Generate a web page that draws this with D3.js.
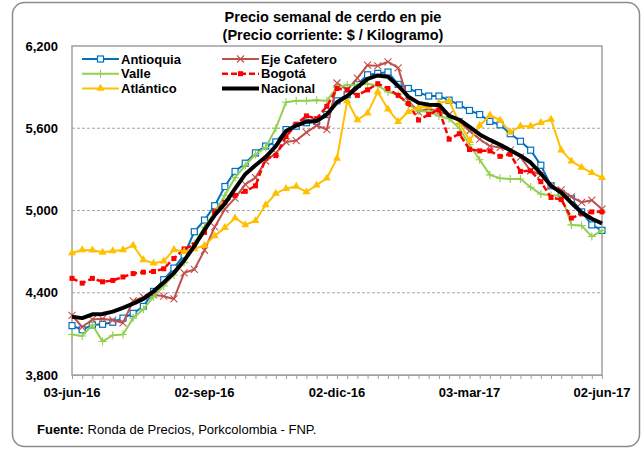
<!DOCTYPE html>
<html>
<head>
    <meta charset="utf-8">
    <script src="https://d3js.org/d3.v7.min.js"></script>
    <style>
        body { margin: 0; background: #fff; }
        text { font-family: "Liberation Sans", Arial, sans-serif; }
        .title { font-size: 14.5px; font-weight: bold; }
        .axis text { font-size: 13px; font-weight: bold; fill: #000; }
        .legend text { font-size: 13px; font-weight: bold; }
        .grid { stroke: #a6a6a6; stroke-dasharray: 3,2; stroke-width: 1; }
        .series { fill: none; stroke-linejoin: round; }
    </style>
</head>
<body>
    <div id="chart"></div>

    <script>
        // weekly prices, 03-jun-16 .. 02-jun-17 (53 weeks)
        const antioquia = [4160, 4130, 4165, 4170, 4185, 4215, 4250, 4300, 4410, 4495, 4580, 4675, 4845, 4930,
            5035, 5175, 5285, 5345, 5420, 5470, 5500, 5590, 5615, 5640, 5650, 5700, 5800, 5845, 5920, 5990,
            6000, 6010, 5920, 5890, 5860, 5835, 5835, 5805, 5770, 5730, 5700, 5650, 5625, 5560, 5505, 5440,
            5330, 5180, 5125, 5085, 4990, 4895, 4855];
        const ejeCafetero = [4235, 4150, 4205, 4210, 4200, 4180, 4340, 4370, 4385, 4375, 4355, 4545, 4570, 4710,
            4880, 5010, 5090, 5190, 5240, 5360, 5420, 5500, 5510, 5570, 5620, 5590, 5930, 5880, 5965, 6060,
            6055, 6085, 6040, 5800, 5720, 5745, 5720, 5700, 5650, 5580, 5520, 5470, 5460, 5440, 5390, 5290,
            5260, 5180, 5150, 5100, 5060, 5075, 5010];
        const valle = [4095, 4085, 4165, 4045, 4090, 4095, 4215, 4280, 4370, 4450, 4530, 4620, 4760, 4880,
            4990, 5110, 5240, 5330, 5410, 5460, 5600, 5790, 5800, 5800, 5805, 5800, 5900, 5915, 5915, 5925,
            5910, 5865, 5845, 5775, 5725, 5720, 5690, 5670, 5600, 5480, 5370, 5260, 5235, 5230, 5230, 5170,
            5120, 5110, 5110, 4895, 4890, 4810, 4855];
        const bogota = [4505, 4470, 4505, 4480, 4490, 4515, 4540, 4550, 4555, 4575, 4650, 4720, 4750, 4840,
            4990, 5060, 5110, 5140, 5180, 5380, 5400, 5540, 5630, 5690, 5670, 5760, 5890, 5880, 5840, 5880,
            5925, 5890, 5840, 5780, 5660, 5700, 5735, 5520, 5560, 5445, 5435, 5435, 5395, 5410, 5285, 5290,
            5210, 5095, 5080, 4945, 4975, 4990, 4990];
        const atlantico = [4690, 4712, 4710, 4695, 4705, 4712, 4745, 4640, 4615, 4630, 4715, 4700, 4720, 4745,
            4815, 4875, 4945, 4895, 4925, 5040, 5125, 5160, 5175, 5135, 5185, 5235, 5380, 5800, 5660, 5710,
            5865, 5740, 5648, 5720, 5750, 5760, 5785, 5800, 5640, 5510, 5620, 5695, 5660, 5570, 5615, 5615,
            5640, 5665, 5440, 5360, 5315, 5275, 5240];
        const nacional = [4225, 4215, 4243, 4245, 4262, 4290, 4320, 4355, 4410, 4475, 4545, 4635, 4740, 4860,
            4965, 5050, 5160, 5265, 5330, 5390, 5470, 5580, 5620, 5648, 5652, 5700, 5790, 5835, 5900, 5960,
            5985, 5975, 5910, 5830, 5785, 5772, 5770, 5690, 5662, 5610, 5555, 5515, 5480, 5440, 5400, 5350,
            5270, 5180, 5130, 5055, 4985, 4940, 4905];

        const xTickWeeks = [0, 13, 26, 39, 52];
        const xTickLabels = ["03-jun-16", "02-sep-16", "02-dic-16", "03-mar-17", "02-jun-17"];
        const yTicks = [3800, 4400, 5000, 5600, 6200];

        const series = [
            { name: "Antioquia", values: antioquia, color: "#0070c0", width: 2, marker: "square" },
            { name: "Eje Cafetero", values: ejeCafetero, color: "#c0504d", width: 2, marker: "x" },
            { name: "Valle", values: valle, color: "#92d050", width: 2, marker: "plus" },
            { name: "Bogotá", values: bogota, color: "#ff0000", width: 2.5, marker: "dot", dash: "6,3" },
            { name: "Atlántico", values: atlantico, color: "#ffc000", width: 2, marker: "triangle" },
            { name: "Nacional", values: nacional, color: "#000000", width: 4, marker: null }
        ];

        const W = 644, H = 451;
        const plot = { left: 72, right: 602, top: 46, bottom: 375 };

        const svg = d3.select("#chart").append("svg")
            .attr("width", W)
            .attr("height", H);

        // outer frame
        svg.append("rect")
            .attr("x", 12.5).attr("y", 2.5)
            .attr("width", 627).attr("height", 444)
            .attr("rx", 12)
            .attr("fill", "#fff")
            .attr("stroke", "#8c8c8c")
            .attr("stroke-width", 1.5);

        const x = d3.scaleLinear().domain([0, 52]).range([plot.left, plot.right]);
        const y = d3.scaleLinear().domain([3800, 6200]).range([plot.bottom, plot.top]);

        // title
        svg.append("text").attr("class", "title")
            .attr("x", 333).attr("y", 22).attr("text-anchor", "middle")
            .text("Precio semanal de cerdo en pie");
        svg.append("text").attr("class", "title")
            .attr("x", 333).attr("y", 40).attr("text-anchor", "middle")
            .text("(Precio corriente: $ / Kilogramo)");

        // gridlines
        svg.append("g").selectAll("line")
            .data(yTicks.slice(1, -1))
            .join("line")
            .attr("class", "grid")
            .attr("x1", plot.left).attr("x2", plot.right)
            .attr("y1", d => y(d)).attr("y2", d => y(d));

        // plot border
        svg.append("rect")
            .attr("x", plot.left).attr("y", plot.top)
            .attr("width", plot.right - plot.left)
            .attr("height", plot.bottom - plot.top)
            .attr("fill", "none")
            .attr("stroke", "#a0a0a0")
            .attr("stroke-width", 1.5);

        // y axis
        const yAxis = svg.append("g")
            .attr("class", "axis")
            .attr("transform", `translate(${plot.left},0)`)
            .call(d3.axisLeft(y).tickValues(yTicks).tickFormat(d3.format(",")).tickSize(0).tickPadding(14));
        yAxis.select(".domain").remove();

        // x axis: weekly minor ticks, labels at quarters
        const xAxis = svg.append("g")
            .attr("class", "axis")
            .attr("transform", `translate(0,${plot.bottom})`)
            .call(d3.axisBottom(x).tickValues(d3.range(0, 53, 1)).tickSize(4).tickFormat(""));
        xAxis.select(".domain").attr("stroke", "#a0a0a0");
        xAxis.selectAll(".tick line").attr("stroke", "#a0a0a0");

        svg.append("g").attr("class", "axis")
            .selectAll("text")
            .data(xTickWeeks)
            .join("text")
            .attr("x", d => x(d))
            .attr("y", plot.bottom + 22)
            .attr("text-anchor", "middle")
            .text((d, i) => xTickLabels[i]);

        // markers
        function drawMarker(g, type, color) {
            if (type === "square") {
                g.append("rect").attr("x", -3).attr("y", -3).attr("width", 6).attr("height", 6)
                    .attr("fill", "#fff").attr("stroke", color).attr("stroke-width", 1.2);
            } else if (type === "x") {
                g.append("path").attr("d", "M-3.5,-3.5L3.5,3.5M-3.5,3.5L3.5,-3.5")
                    .attr("stroke", color).attr("stroke-width", 1.1).attr("fill", "none");
            } else if (type === "plus") {
                g.append("path").attr("d", "M-4,0H4M0,-4V4")
                    .attr("stroke", color).attr("stroke-width", 1.1).attr("fill", "none");
            } else if (type === "dot") {
                g.append("rect").attr("x", -2.5).attr("y", -2.5).attr("width", 5).attr("height", 5)
                    .attr("fill", color);
            } else if (type === "triangle") {
                g.append("path").attr("d", d3.symbol(d3.symbolTriangle, 28)())
                    .attr("fill", color);
            }
        }

        const line = d3.line()
            .x((d, i) => x(i))
            .y(d => y(d));

        series.forEach(s => {
            const g = svg.append("g");
            g.append("path")
                .datum(s.values)
                .attr("class", "series")
                .attr("stroke", s.color)
                .attr("stroke-width", s.width)
                .attr("stroke-dasharray", s.dash || null)
                .attr("d", line);
            if (s.marker) {
                s.values.forEach((v, i) => {
                    const m = g.append("g").attr("transform", `translate(${x(i)},${y(v)})`);
                    drawMarker(m, s.marker, s.color);
                });
            }
        });

        // legend
        const legend = svg.append("g").attr("class", "legend");
        series.forEach((s, i) => {
            const col = i % 2, row = Math.floor(i / 2);
            const lx = col === 0 ? 82 : 222;
            const ly = 59 + row * 14.7;
            const g = legend.append("g").attr("transform", `translate(${lx},${ly})`);
            g.append("line")
                .attr("x1", 0).attr("x2", 37).attr("y1", 0).attr("y2", 0)
                .attr("stroke", s.color)
                .attr("stroke-width", s.width)
                .attr("stroke-dasharray", s.dash || null);
            if (s.marker) {
                const m = g.append("g").attr("transform", "translate(18.5,0)");
                drawMarker(m, s.marker, s.color);
            }
            g.append("text")
                .attr("x", 39).attr("y", 0).attr("dy", "0.35em")
                .text(s.name);
        });

        // source
        const src = svg.append("text")
            .attr("x", 37).attr("y", 434)
            .style("font-size", "13px");
        src.append("tspan").style("font-weight", "bold").text("Fuente: ");
        src.append("tspan").text("Ronda de Precios, Porkcolombia  - FNP.");
    </script>
</body>
</html>
